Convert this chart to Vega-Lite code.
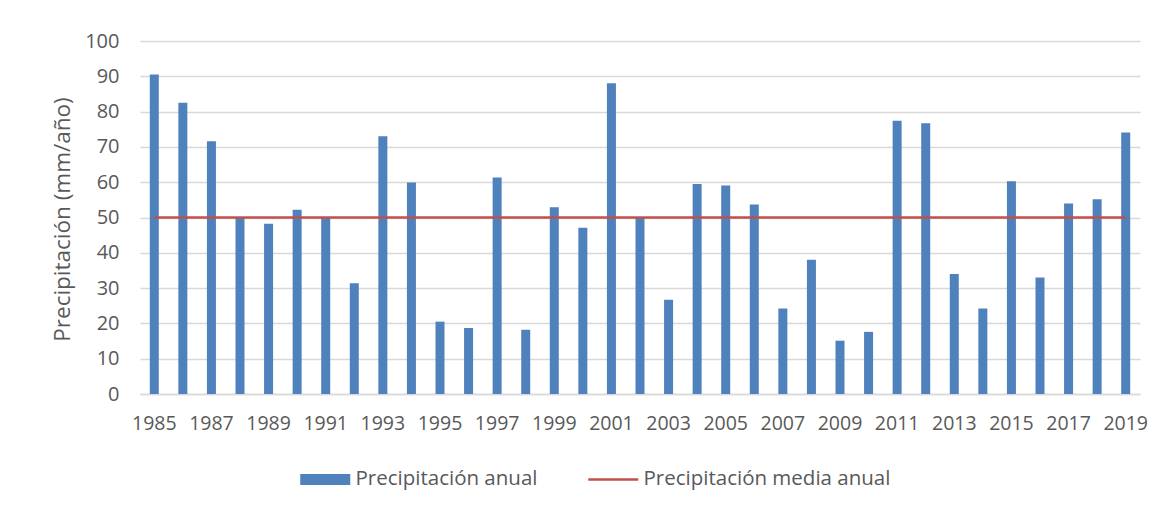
{
  "$schema": "https://vega.github.io/schema/vega-lite/v6.json",
  "autosize": {"type": "none"},
  "padding": {"left": 140, "top": 41, "right": 26, "bottom": 118},
  "width": 1000,
  "height": 353,
  "background": "white",
  "config": {
    "font": "Open Sans",
    "view": {"stroke": null},
    "axis": {"labelColor": "#595959", "titleColor": "#595959", "labelFontSize": 18.5, "titleFontSize": 22.5, "titleFontWeight": "normal", "ticks": false, "domainColor": "#d9d9d9", "gridColor": "#d9d9d9", "gridWidth": 1.3, "domainWidth": 1.3}
  },
  "data": {"values": [
    {"anio": 1985, "precip": 90.5, "media": 50},
    {"anio": 1986, "precip": 82.5, "media": 50},
    {"anio": 1987, "precip": 71.6, "media": 50},
    {"anio": 1988, "precip": 50.0, "media": 50},
    {"anio": 1989, "precip": 48.2, "media": 50},
    {"anio": 1990, "precip": 52.2, "media": 50},
    {"anio": 1991, "precip": 50.0, "media": 50},
    {"anio": 1992, "precip": 31.4, "media": 50},
    {"anio": 1993, "precip": 73.0, "media": 50},
    {"anio": 1994, "precip": 59.9, "media": 50},
    {"anio": 1995, "precip": 20.5, "media": 50},
    {"anio": 1996, "precip": 18.7, "media": 50},
    {"anio": 1997, "precip": 61.3, "media": 50},
    {"anio": 1998, "precip": 18.2, "media": 50},
    {"anio": 1999, "precip": 52.9, "media": 50},
    {"anio": 2000, "precip": 47.1, "media": 50},
    {"anio": 2001, "precip": 88.0, "media": 50},
    {"anio": 2002, "precip": 50.0, "media": 50},
    {"anio": 2003, "precip": 26.7, "media": 50},
    {"anio": 2004, "precip": 59.5, "media": 50},
    {"anio": 2005, "precip": 59.1, "media": 50},
    {"anio": 2006, "precip": 53.7, "media": 50},
    {"anio": 2007, "precip": 24.2, "media": 50},
    {"anio": 2008, "precip": 38.0, "media": 50},
    {"anio": 2009, "precip": 15.1, "media": 50},
    {"anio": 2010, "precip": 17.6, "media": 50},
    {"anio": 2011, "precip": 77.4, "media": 50},
    {"anio": 2012, "precip": 76.7, "media": 50},
    {"anio": 2013, "precip": 34.0, "media": 50},
    {"anio": 2014, "precip": 24.2, "media": 50},
    {"anio": 2015, "precip": 60.3, "media": 50},
    {"anio": 2016, "precip": 33.0, "media": 50},
    {"anio": 2017, "precip": 54.0, "media": 50},
    {"anio": 2018, "precip": 55.2, "media": 50},
    {"anio": 2019, "precip": 74.1, "media": 50}
  ]},
  "encoding": {
    "x": {
      "field": "anio", "type": "ordinal",
      "scale": {"paddingInner": 0.685, "paddingOuter": 0.3425},
      "axis": {"title": null, "labelAngle": 0, "labelPadding": 20, "labelFontSize": 19.5, "grid": false,
               "values": [1985,1987,1989,1991,1993,1995,1997,1999,2001,2003,2005,2007,2009,2011,2013,2015,2017,2019]}
    },
    "y": {"type": "quantitative",
          "scale": {"domain": [0, 100], "nice": false},
          "axis": {"title": "Precipitación (mm/año)", "values": [0,10,20,30,40,50,60,70,80,90,100], "labelFontSize": 20, "domain": false, "labelPadding": 21, "titleX": -66, "titleY": 178, "titleBaseline": "bottom"}}
  },
  "layer": [
    {
      "mark": {"type": "bar"},
      "encoding": {
        "y": {"field": "precip", "type": "quantitative", "title": "Precipitación (mm/año)"},
        "color": {"datum": "Precipitación anual", "type": "nominal",
                  "scale": {"domain": ["Precipitación anual", "Precipitación media anual"], "range": ["#4f81bd", "#c0504d"]},
                  "legend": {
                    "title": null, "orient": "none", "direction": "horizontal",
                    "legendX": 175, "legendY": 428,
                    "symbolSize": 2500, "labelFontSize": 20.5, "labelColor": "#595959", "labelLimit": 400,
                    "labelOffset": 20, "columnPadding": 45, "padding": 0,
                    "symbolOpacity": 1,
                    "encode": {"symbols": {"update": {
                      "shape": {"signal": "datum.value === 'Precipitación anual' ? 'M-1,-0.22H1V0.22H-1Z' : 'stroke'"},
                      "fill": {"signal": "datum.value === 'Precipitación anual' ? '#4f81bd' : 'transparent'"},
                      "stroke": {"signal": "datum.value === 'Precipitación anual' ? '#4f81bd' : '#c0504d'"},
                      "strokeWidth": {"signal": "datum.value === 'Precipitación anual' ? 0 : 2.5"},
                      "opacity": {"value": 1}
                    }}}
                  }}
      }
    },
    {
      "mark": {"type": "line", "strokeWidth": 2.5},
      "encoding": {
        "y": {"field": "media", "type": "quantitative", "title": "Precipitación (mm/año)"},
        "color": {"datum": "Precipitación media anual", "type": "nominal"}
      }
    }
  ]
}
